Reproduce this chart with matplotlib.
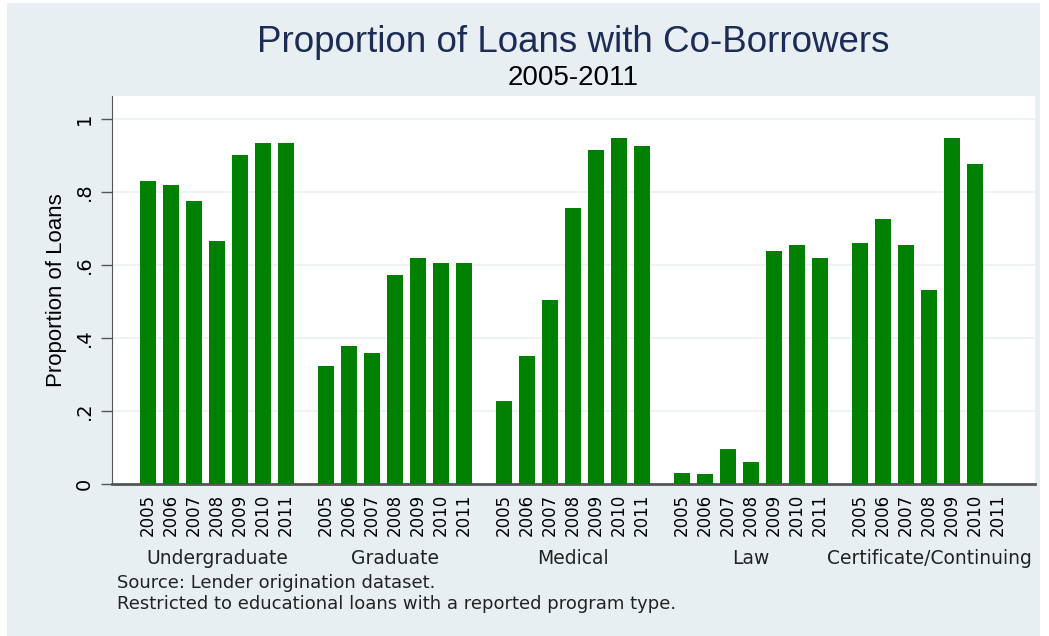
import numpy as np
import matplotlib.pyplot as plt
from matplotlib.patches import Rectangle

# program types and years
programs = ['Undergraduate', 'Graduate', 'Medical', 'Law', 'Certificate/Continuing']
years = ['2005', '2006', '2007', '2008', '2009', '2010', '2011']

# proportion of loans with a co-borrower
undergrad = [0.830, 0.819, 0.775, 0.666, 0.901, 0.934, 0.934]
graduate = [0.323, 0.378, 0.359, 0.573, 0.619, 0.605, 0.605]
medical = [0.227, 0.351, 0.504, 0.756, 0.915, 0.948, 0.926]
law = [0.030, 0.027, 0.096, 0.060, 0.638, 0.655, 0.619]
certificate = [0.660, 0.726, 0.655, 0.532, 0.948, 0.877, np.nan]

values = [undergrad, graduate, medical, law, certificate]

W, H = 1049, 636
fig = plt.figure(figsize=(W / 100, H / 100), dpi=100)
fig.patch.set_facecolor('white')
bg = '#e8eff2'
fig.patches.append(Rectangle((7 / W, 0), (1040 - 7) / W, (636 - 3) / H,
                             transform=fig.transFigure, facecolor=bg,
                             edgecolor='none', zorder=-5))

ax = fig.add_axes([112 / W, (H - 484) / H, (1035 - 112) / W, (484 - 96) / H])
ax.set_facecolor('white')

group_step = 7.74
xpos, xlab = [], []
for g, vals in enumerate(values):
    x = g * group_step + np.arange(len(years))
    ax.bar(x, vals, width=0.7, color='#008000', zorder=3)
    xpos.extend(x)
    xlab.extend(years)
    ax.annotate(programs[g], xy=(x.mean(), 0), xycoords=('data', 'axes fraction'),
                xytext=(0, -74 * 0.72), textcoords='offset points',
                ha='center', va='center', fontsize=13.5, color='#222222',
                family='DejaVu Sans')

ax.set_xlim(-1.57, 4 * group_step + 6 + 1.6)
ax.set_ylim(0, 1.063)

ax.set_xticks(xpos)
ax.set_xticklabels(xlab, rotation=90, fontsize=12, family='DejaVu Sans')
ax.tick_params(axis='x', length=0, pad=7)

yt = [0, 0.2, 0.4, 0.6, 0.8, 1.0]
ax.set_yticks(yt)
ax.set_yticklabels(['0', '.2', '.4', '.6', '.8', '1'], rotation=90, va='center',
                   fontsize=14, family='DejaVu Sans')
ax.tick_params(axis='y', length=8, width=1, color='#555555', pad=5)
ax.set_ylabel('Proportion of Loans', fontsize=16, labelpad=6,
              family='Liberation Sans')

ax.grid(axis='y', color='#eaf1f3', linewidth=1.2, zorder=0)
ax.set_axisbelow(True)
for s in ['top', 'right']:
    ax.spines[s].set_visible(False)
ax.spines['left'].set_color('#555555')
ax.spines['bottom'].set_color('#555555')
ax.spines['bottom'].set_linewidth(2)

fig.text(573 / W, 1 - 43 / H, 'Proportion of Loans with Co-Borrowers', ha='center',
         va='center', fontsize=26.5, color='#1c2c55', family='Liberation Sans')
fig.text(573 / W, 1 - 78 / H, '2005-2011', ha='center', va='center', fontsize=20,
         color='black', family='Liberation Sans')

fig.text(117 / W, 1 - 583 / H, 'Source: Lender origination dataset.', ha='left',
         va='center', fontsize=13, color='#222222', family='DejaVu Sans')
fig.text(117 / W, 1 - 604 / H, 'Restricted to educational loans with a reported program type.',
         ha='left', va='center', fontsize=13, color='#222222', family='DejaVu Sans')

plt.savefig('out.png', dpi=100)
